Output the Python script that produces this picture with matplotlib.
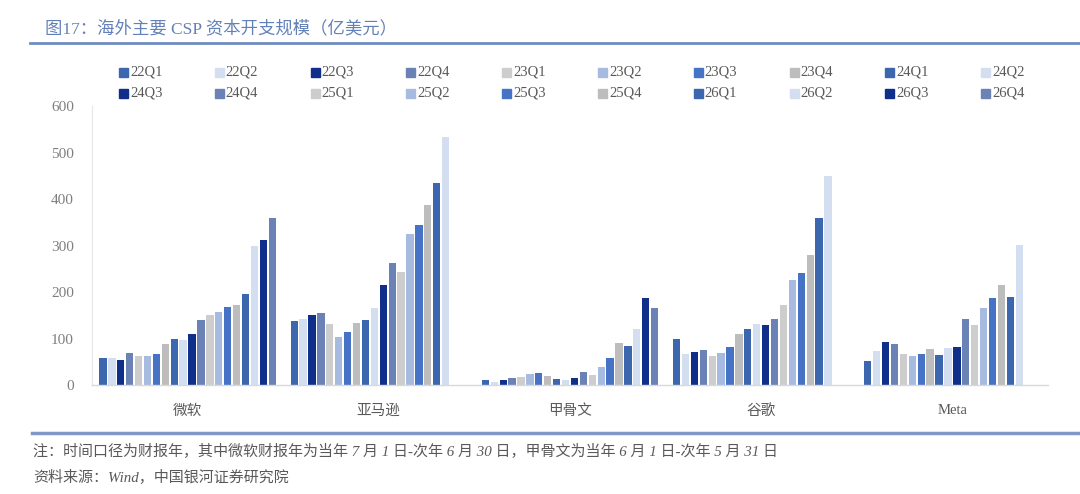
import numpy as np
import matplotlib.pyplot as plt
from matplotlib.patches import Rectangle
from matplotlib.lines import Line2D

plt.rcParams['font.family'] = ['Liberation Serif', 'Noto Sans CJK SC', 'DejaVu Sans']

COMPANIES = ["微软", "亚马逊", "甲骨文", "谷歌", "Meta"]
QUARTERS = ["22Q1", "22Q2", "22Q3", "22Q4", "23Q1", "23Q2", "23Q3", "23Q4",
            "24Q1", "24Q2", "24Q3", "24Q4", "25Q1", "25Q2", "25Q3", "25Q4",
            "26Q1", "26Q2", "26Q3", "26Q4"]

# capex per company, one value per quarter (nan = not reported)
MSFT = [58, 58, 53, 69, 63, 62, 66, 89, 99, 97,
        110, 139, 150, 158, 167, 171, 195, 300, 311, 360]
AMZN = [138, 141, 150, 155, 131, 104, 114, 134, 140, 165,
        215, 262, 244, 324, 345, 387, 434, 533, np.nan, np.nan]
ORCL = [11, 7, 11, 14, 17, 24, 26, 19, 13, 10,
        16, 28, 22, 39, 59, 91, 84, 121, 187, 165]
GOOGL = [98, 67, 72, 76, 63, 69, 81, 110, 120, 132,
         130, 142, 172, 226, 241, 280, 359, 450, np.nan, np.nan]
META = [52, 74, 92, 89, 67, 62, 66, 77, 64, 80,
        81, 143, 128, 165, 188, 215, 190, 302, np.nan, np.nan]

# colour cycle repeats every 8 quarters
BASE_COLORS = ["#3c66ae", "#d3def0", "#0f2f8a", "#6b82b6",
               "#cdcdcd", "#a7badf", "#4673c6", "#bdbdbd"]
colors = [BASE_COLORS[i % 8] for i in range(len(QUARTERS))]

values = np.array([MSFT, AMZN, ORCL, GOOGL, META], dtype=float)

fig = plt.figure(figsize=(10.8, 4.94), dpi=100)
ax = fig.add_axes([92 / 1080, 1 - 385 / 494, 956 / 1080, 279 / 494])

slot = 0.0466
x = np.arange(len(COMPANIES))
for j, q in enumerate(QUARTERS):
    ax.bar(x + (j - 9.5) * slot, values[:, j], width=slot * 0.82,
           color=colors[j], label=q, zorder=2)

ax.set_xlim(-0.5, 4.5)
ax.set_ylim(0, 600)
ax.set_yticks(range(0, 601, 100))
ax.set_xticks(x)
ax.set_xticklabels(COMPANIES, fontsize=10.5, color="#595959")
ax.tick_params(axis="y", length=0, pad=13, labelsize=11, labelcolor="#7f7f7f")
ax.tick_params(axis="x", length=0, pad=14)
for side in ["top", "right"]:
    ax.spines[side].set_visible(False)
ax.spines["left"].set_color("#e6e6e6")
ax.spines["bottom"].set_color("#d9d9d9")
ax.spines["left"].set_linewidth(0.8)
ax.spines["bottom"].set_linewidth(1.0)

# legend, 2 rows x 10 columns
for j, q in enumerate(QUARTERS):
    row, col = divmod(j, 10)
    px = 119 + 95.8 * col
    py = 72 + 21 * row
    fig.patches.append(Rectangle((px / 1080, 1 - (py + 4.5) / 494), 9 / 1080, 9 / 494,
                                 transform=fig.transFigure, color=colors[j]))
    fig.text((px + 11) / 1080, 1 - py / 494, q, fontsize=10.5, color="#595959",
             va="center", ha="left")

# title and rules
fig.text(45 / 1080, 1 - 29 / 494, "图17：海外主要 CSP 资本开支规模（亿美元）",
         fontsize=12.5, color="#6381b9", va="center", ha="left")
fig.add_artist(Line2D([30 / 1080, 1], [1 - 43 / 494] * 2, color="#6f8cc2", lw=2))
fig.add_artist(Line2D([32 / 1080, 1], [1 - 433 / 494] * 2, color="#7f98c8", lw=2.5))

fig.text(33 / 1080, 1 - 451 / 494,
         "注：时间口径为财报年，其中微软财报年为当年 7 月 1 日-次年 6 月 30 日，甲骨文为当年 6 月 1 日-次年 5 月 31 日",
         fontsize=10.8, color="#595959", va="center", ha="left", style="italic")
fig.text(33 / 1080, 1 - 478 / 494, "资料来源：Wind，中国银河证券研究院",
         fontsize=10.8, color="#595959", va="center", ha="left", style="italic")

fig.savefig("out.png", dpi=100)
